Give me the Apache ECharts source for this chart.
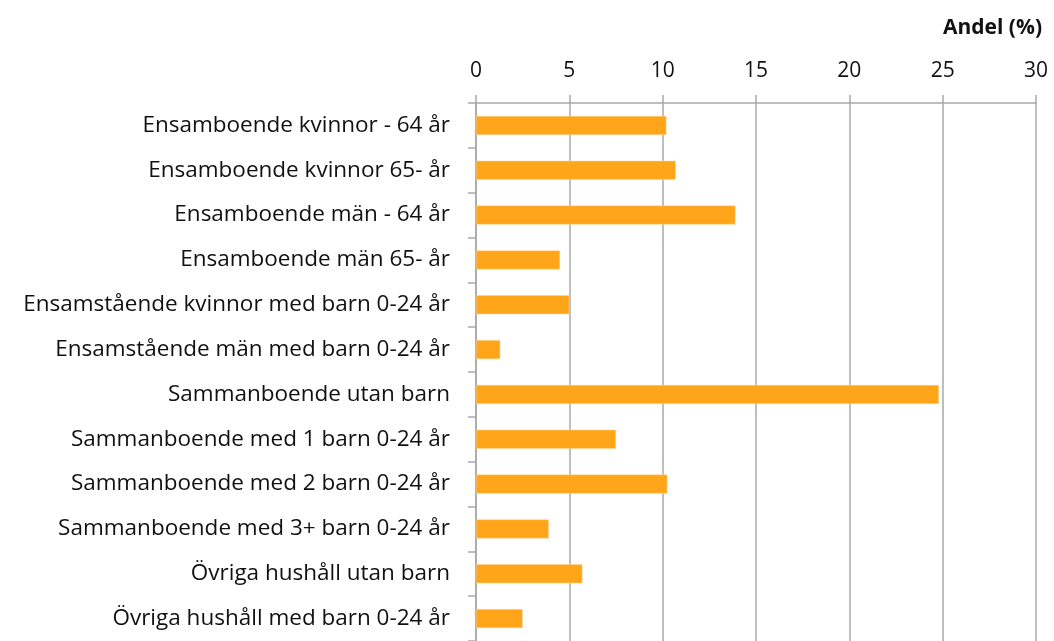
<!DOCTYPE html>
<html>
<head>
<meta charset="utf-8">
<script src="https://cdn.jsdelivr.net/npm/echarts@6/dist/echarts.min.js"></script>
<style>
    html, body { margin: 0; padding: 0; background: #fff; }
    #chart { width: 1054px; height: 641px; }
</style>
</head>
<body>
<div id="chart"></div>
<script>
// hushållstyper, uppifrån och ned
const categories = [
    'Ensamboende kvinnor - 64 år',
    'Ensamboende kvinnor 65- år',
    'Ensamboende män - 64 år',
    'Ensamboende män 65- år',
    'Ensamstående kvinnor med barn 0-24 år',
    'Ensamstående män med barn 0-24 år',
    'Sammanboende utan barn',
    'Sammanboende med 1 barn 0-24 år',
    'Sammanboende med 2 barn 0-24 år',
    'Sammanboende med 3+ barn 0-24 år',
    'Övriga hushåll utan barn',
    'Övriga hushåll med barn 0-24 år'
]
const andel = [10.2, 10.7, 13.9, 4.5, 5.0, 1.3, 24.8, 7.5, 10.25, 3.9, 5.7, 2.5]
const axisTitle = 'Andel (%)'

const font = '"Open Sans", Lato, sans-serif'
const gray = '#a9a9a9'

const chart = echarts.init(document.getElementById('chart'))
chart.setOption({
    animation: false,
    title: {
        text: axisTitle,
        right: 7,
        top: 13,
        textStyle: {
            fontFamily: font,
            fontSize: 21,
            fontWeight: 'bold',
            color: '#111'
        }
    },
    grid: {
        left: 476,
        top: 103,
        right: 18,
        height: 540
    },
    xAxis: {
        type: 'value',
        position: 'top',
        min: 0,
        max: 30,
        interval: 5,
        axisLine: { show: true, lineStyle: { color: gray, width: 1.5 } },
        axisTick: { show: true, length: 8, lineStyle: { color: gray, width: 1.5 } },
        splitLine: { show: true, lineStyle: { color: gray, width: 1.5 } },
        axisLabel: {
            margin: 21,
            fontFamily: font,
            fontSize: 21,
            color: '#111'
        }
    },
    yAxis: {
        type: 'category',
        inverse: true,
        data: categories,
        axisLine: { show: true, lineStyle: { color: gray, width: 1.5 } },
        axisTick: { show: true, length: 8, lineStyle: { color: gray, width: 1.5 } },
        axisLabel: {
            margin: 26,
            fontFamily: font,
            fontSize: 22.5,
            color: '#111'
        }
    },
    series: [{
        type: 'bar',
        data: andel,
        barWidth: 19,
        itemStyle: {
            color: '#ffa519',
            borderColor: '#ffd89a',
            borderWidth: 0.5
        }
    }]
})
</script>
</body>
</html>
